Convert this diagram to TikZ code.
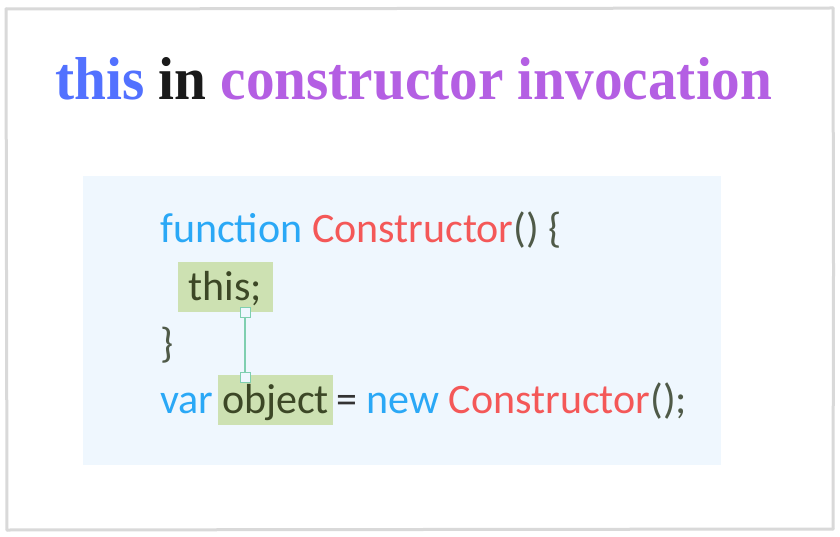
\documentclass[tikz,border=0pt]{standalone}
\usepackage{fontspec}
\setmainfont{Carlito}
\newfontfamily\titlefont{Liberation Serif}
\definecolor{bordergray}{HTML}{D9D9D9}
\definecolor{codebg}{HTML}{EFF7FE}
\definecolor{kwblue}{HTML}{2AA8F6}
\definecolor{fnred}{HTML}{F45858}
\definecolor{punct}{HTML}{4F5A48}
\definecolor{hlgreen}{HTML}{CDE1B2}
\definecolor{hltext}{HTML}{3C4726}
\definecolor{conn}{HTML}{7FCFB0}
\definecolor{tblue}{HTML}{5271FF}
\definecolor{tpurple}{HTML}{B45FE3}
\definecolor{tblack}{HTML}{1A1A1A}
\tikzset{
  codetext/.style={inner sep=0, anchor=base west, font=\fontsize{42}{42}\selectfont},
  hlbox/.style={fill=hlgreen, inner xsep=0, inner ysep=4, text height=34, text depth=8, anchor=base, font=\fontsize{42}{42}\selectfont, text=hltext},
  sqmark/.style={draw=conn, fill=codebg, line width=1, minimum size=10, inner sep=0},
  connline/.style={draw=conn, line width=1.2},
  sketch/.style={draw=bordergray, line width=3, line cap=round}
}
\begin{document}
\begin{tikzpicture}[x=1pt,y=-1pt]
\useasboundingbox (0,0) rectangle (840,537);
\fill[white] (0,0) rectangle (840,537);
% hand-drawn frame
\draw[sketch] (6,9) -- (400,8.5) -- (833,8);
\draw[sketch] (833,8) -- (833.5,270) -- (833,529);
\draw[sketch] (833,529) -- (420,529.5) -- (7,530);
\draw[sketch] (7,530) -- (6.5,270) -- (6,9);
% code background
\fill[codebg] (83,176) rectangle (721,465);
% title
\node[inner sep=0, anchor=base west] (title) at (55,100)
  {\resizebox{717pt}{42pt}{\titlefont\bfseries\color{tblue}this \color{tblack}in \color{tpurple}constructor invocation}};
% code
\node[codetext] (l1) at (160,243) {\color{kwblue}function \color{fnred}Constructor\color{punct}() \{};
\node[hlbox, minimum width=95] (thisbox) at (225.5,300) {this;};
\node[codetext, text=punct] (l3) at (160,357) {\}};
\node[codetext, text=kwblue] (varkw) at (160,413) {var};
\node[hlbox, minimum width=115] (objbox) at (275.5,413) {object};
\node[codetext] (rest) at (336,413) {\color{black!80}= \color{kwblue}new \color{fnred}Constructor\color{punct}();};
% connector
\coordinate (cx) at (245,0);
\draw[connline] (thisbox.south -| cx) -- (objbox.north -| cx);
\node[sqmark] (sqtop) at (thisbox.south -| cx) {};
\node[sqmark] (sqbot) at ([yshift=-3pt]objbox.north -| cx) {};
\end{tikzpicture}
\end{document}
